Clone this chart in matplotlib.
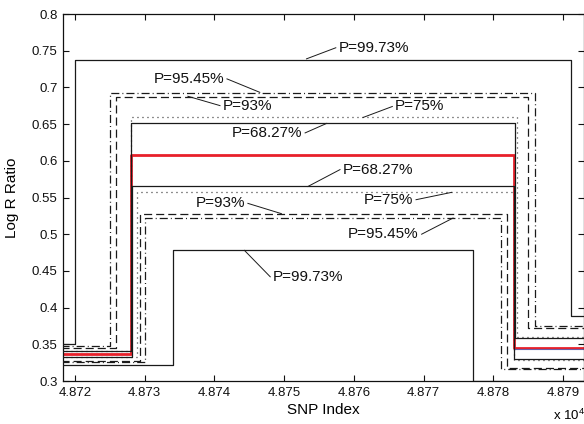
import matplotlib
matplotlib.use("Agg")
import matplotlib.pyplot as plt
import numpy as np
from matplotlib.ticker import FixedLocator, FuncFormatter

plt.rcParams["font.family"] = ["Liberation Sans", "DejaVu Sans"]
plt.rcParams["mathtext.fontset"] = "custom"
plt.rcParams["mathtext.rm"] = "Liberation Sans"
plt.rcParams["lines.scale_dashes"] = False

# SNP index range covered by the step curves
x_start, x_end = 48718, 48793

# mean log R ratio (red) and a second estimate on the right segment
mean_jumps = [48728.0, 48783.0]
mean_levels = [0.337, 0.608, 0.3454]
right_est_x = [48783.0, x_end]
right_est_y = [0.3435, 0.3435]

# confidence bounds: (label, up jump, down jump, left, middle, right level)
bands = ["68.27", "75", "93", "95.45", "99.73"]
upper_jumps = [[48728.0, 48783.1], [48728.0, 48783.3], [48725.9, 48785.0],
               [48725.1, 48786.0], [48720.0, 48791.1]]
upper_levels = [[0.3403, 0.651, 0.3585], [0.3415, 0.659, 0.3604],
                [0.3455, 0.687, 0.3720], [0.3475, 0.693, 0.3745],
                [0.3510, 0.738, 0.3885]]
lower_jumps = [[48728.2, 48782.9], [48728.9, 48783.0], [48729.3, 48782.0],
               [48730.0, 48781.1], [48734.1, 48777.0]]
lower_levels = [[0.3333, 0.565, 0.3305], [0.3321, 0.557, 0.3285],
                [0.3275, 0.528, 0.3180], [0.3260, 0.522, 0.3160],
                [0.3215, 0.478, 0.3005]]

styles = {
    "68.27": "-",
    "75": (0, (0.7, 2.9)),
    "93": (0, (5.8, 2.9)),
    "95.45": (0, (5.8, 2.2, 0.7, 2.2)),
    "99.73": "-",
}

# label annotations: text, line start (on curve), line end, text anchor
notes = [
    ("P=99.73%", (48753.2, 0.7389), (48757.4, 0.7540), "left"),
    ("P=95.45%", (48746.5, 0.6933), (48741.8, 0.7116), "right"),
    ("P=93%", (48736.2, 0.6879), (48740.8, 0.6752), "left"),
    ("P=75%", (48761.3, 0.6590), (48765.5, 0.6740), "left"),
    ("P=68.27%", (48756.1, 0.6510), (48753.0, 0.6380), "right"),
    ("P=68.27%", (48753.4, 0.5650), (48758.0, 0.5880), "left"),
    ("P=93%", (48749.6, 0.5280), (48744.8, 0.5420), "right"),
    ("P=75%", (48774.0, 0.5570), (48768.9, 0.5470), "right"),
    ("P=95.45%", (48774.2, 0.5220), (48769.7, 0.5000), "right"),
    ("P=99.73%", (48744.3, 0.4780), (48748.0, 0.4420), "left"),
]


def step_xy(jumps, levels):
    x = np.array([x_start, jumps[0], jumps[1], x_end])
    y = np.array([levels[0], levels[1], levels[2], levels[2]])
    return x, y


fig = plt.figure(figsize=(5.84, 4.24), dpi=100)
ax = fig.add_axes([63 / 584, 1 - 381 / 424, 520.5 / 584, 367 / 424])

x, y = step_xy(mean_jumps, mean_levels)
ax.plot(x, y, drawstyle="steps-post", color="#e8202a", lw=2.0, zorder=2)
ax.plot(right_est_x, right_est_y, color="#6a5fa8", lw=0.8, zorder=2)

for i, b in enumerate(bands):
    for jumps, levels in ((upper_jumps[i], upper_levels[i]),
                          (lower_jumps[i], lower_levels[i])):
        x, y = step_xy(jumps, levels)
        ax.plot(x, y, drawstyle="steps-post", color="#1a1a1a", lw=0.9,
                linestyle=styles[b], zorder=3)

for text, p0, p1, ha in notes:
    ax.plot([p0[0], p1[0]], [p0[1], p1[1]], color="#1a1a1a", lw=0.7, zorder=4)
    dx = 0.4 if ha == "left" else -0.4
    ax.text(p1[0] + dx, p1[1], text, ha=ha, va="center", fontsize=11,
            color="#111111", zorder=5)

ax.set_xlim(48718.3, 48792.9)
ax.set_ylim(0.3, 0.8)
ax.xaxis.set_major_locator(FixedLocator(np.arange(48720, 48791, 10)))
ax.xaxis.set_major_formatter(FuncFormatter(lambda v, p: "%.3f" % (v / 1e4)))
ax.set_yticks(np.arange(0.3, 0.801, 0.05))
ax.yaxis.set_major_formatter(FuncFormatter(lambda v, p: "%g" % round(v, 2)))

ax.tick_params(direction="in", length=4, width=0.8, top=True, right=True,
               labelsize=9.5, pad=4, colors="#111111")
for s in ax.spines.values():
    s.set_linewidth(0.9)
    s.set_color("#111111")

ax.set_xlabel("SNP Index", fontsize=11, labelpad=3)
ax.set_ylabel("Log R Ratio", fontsize=11, labelpad=9)
fig.text(553 / 584, 1 - 420 / 424, r"x 10$^{4}$", fontsize=9.5,
         ha="left", va="baseline")

fig.savefig("out.png", dpi=100)
